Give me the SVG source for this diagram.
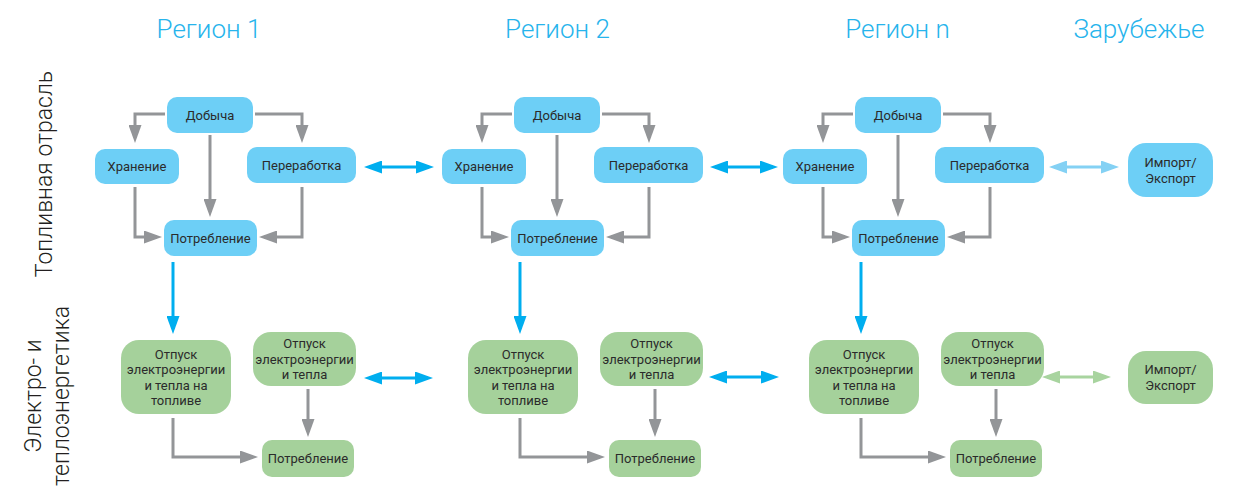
<svg xmlns="http://www.w3.org/2000/svg" width="1236" height="489" viewBox="0 0 1236 489">
<style>
  .hdr{font-family:Roboto,"Liberation Sans",sans-serif;font-weight:300;font-size:26px;fill:#27b4ec;text-anchor:middle}
  .side{font-family:Roboto,"Liberation Sans",sans-serif;font-weight:300;font-size:23px;fill:#231f20;text-anchor:middle}
  .t{font-family:Roboto,"Liberation Sans",sans-serif;font-size:13px;fill:#2b2b2b;text-anchor:middle}
  .b{fill:#6dcff6}
  .g{fill:#a5d19b}
  .cg{fill:none;stroke:#939598;stroke-width:3;marker-end:url(#ah-gray)}
  .cb{fill:none;stroke:#00aeef;stroke-width:3;marker-end:url(#ah-blue)}
  .cbd{fill:none;stroke:#00aeef;stroke-width:3;marker-start:url(#ah-blue);marker-end:url(#ah-blue)}
  .clb{fill:none;stroke:#84d1f4;stroke-width:3;marker-start:url(#ah-lblue);marker-end:url(#ah-lblue)}
  .clg{fill:none;stroke:#a8d49f;stroke-width:3;marker-start:url(#ah-lgreen);marker-end:url(#ah-lgreen)}
</style>
<defs>
  <marker id="ah-gray" viewBox="0 0 18 13" refX="13" refY="6.5" markerWidth="18" markerHeight="13" markerUnits="userSpaceOnUse" orient="auto-start-reverse"><path d="M0,0 L18,6.5 L0,13 z" fill="#939598"/></marker>
  <marker id="ah-blue" viewBox="0 0 18 13" refX="13" refY="6.5" markerWidth="18" markerHeight="13" markerUnits="userSpaceOnUse" orient="auto-start-reverse"><path d="M0,0 L18,6.5 L0,13 z" fill="#00aeef"/></marker>
  <marker id="ah-lblue" viewBox="0 0 18 13" refX="13" refY="6.5" markerWidth="18" markerHeight="13" markerUnits="userSpaceOnUse" orient="auto-start-reverse"><path d="M0,0 L18,6.5 L0,13 z" fill="#84d1f4"/></marker>
  <marker id="ah-lgreen" viewBox="0 0 18 13" refX="13" refY="6.5" markerWidth="18" markerHeight="13" markerUnits="userSpaceOnUse" orient="auto-start-reverse"><path d="M0,0 L18,6.5 L0,13 z" fill="#a8d49f"/></marker>
</defs>
<rect width="1236" height="489" fill="#ffffff"/>

<g id="headers">
  <text class="hdr" x="209" y="38">Регион 1</text>
  <text class="hdr" x="557.5" y="38">Регион 2</text>
  <text class="hdr" x="897.5" y="38">Регион n</text>
  <text class="hdr" x="1139" y="38">Зарубежье</text>
</g>
<g id="side-labels">
  <text class="side" transform="translate(52,174) rotate(-90)">Топливная отрасль</text>
  <text class="side" transform="translate(41,396) rotate(-90)"><tspan x="0" y="0">Электро- и</tspan><tspan x="0" dy="28">теплоэнергетика</tspan></text>
</g>

<g id="connectors">
  <g id="conn-r1">
    <path class="cg" d="M165,114 H135 V138"/>
    <path class="cg" d="M255,114 H302 V138"/>
    <path class="cg" d="M210,135 V212"/>
    <path class="cg" d="M135,187 V237 H157"/>
    <path class="cg" d="M302,187 V237 H264"/>
    <path class="cb" d="M173,262 V329"/>
    <path class="cg" d="M173,418 V457 H253"/>
    <path class="cg" d="M308,389 V432"/>
  </g>
  <g id="conn-r2" transform="translate(347,0)">
    <path class="cg" d="M165,114 H135 V138"/>
    <path class="cg" d="M255,114 H302 V138"/>
    <path class="cg" d="M210,135 V212"/>
    <path class="cg" d="M135,187 V237 H157"/>
    <path class="cg" d="M302,187 V237 H264"/>
    <path class="cb" d="M173,262 V329"/>
    <path class="cg" d="M173,418 V457 H253"/>
    <path class="cg" d="M308,389 V432"/>
  </g>
  <g id="conn-rn" transform="translate(688,0)">
    <path class="cg" d="M165,114 H135 V138"/>
    <path class="cg" d="M255,114 H302 V138"/>
    <path class="cg" d="M210,135 V212"/>
    <path class="cg" d="M135,187 V237 H157"/>
    <path class="cg" d="M302,187 V237 H264"/>
    <path class="cb" d="M173,262 V329"/>
    <path class="cg" d="M173,418 V457 H253"/>
    <path class="cg" d="M308,389 V432"/>
  </g>
  <path class="cbd" d="M369,167 H429"/>
  <path class="cbd" d="M369,378 H428"/>
  <path class="cbd" d="M715,167 H773"/>
  <path class="cbd" d="M714,377 H774"/>
  <path class="clb" d="M1054,167 H1114"/>
  <path class="clg" d="M1047,377 H1106"/>
</g>

<g id="region1">
  <g id="r1-dobycha"><rect class="b" x="167" y="97" width="86" height="36" rx="10"/><text class="t" x="210" y="119.5">Добыча</text></g>
  <g id="r1-hranenie"><rect class="b" x="95" y="149" width="84" height="35" rx="10"/><text class="t" x="137" y="171">Хранение</text></g>
  <g id="r1-pererabotka"><rect class="b" x="247" y="147" width="109" height="36" rx="10"/><text class="t" x="301.5" y="169.5">Переработка</text></g>
  <g id="r1-potreblenie"><rect class="b" x="164" y="220" width="93" height="36" rx="10"/><text class="t" x="210.5" y="242.5">Потребление</text></g>
  <g id="r1-otpusk-topl"><rect class="g" x="121" y="340" width="110" height="74" rx="18"/><text class="t"><tspan x="176" y="358.5">Отпуск</tspan><tspan x="176" y="374">электроэнергии</tspan><tspan x="176" y="389.5">и тепла на</tspan><tspan x="176" y="405">топливе</tspan></text></g>
  <g id="r1-otpusk"><rect class="g" x="253" y="332" width="103" height="54" rx="18"/><text class="t"><tspan x="304.5" y="348">Отпуск</tspan><tspan x="304.5" y="363.5">электроэнергии</tspan><tspan x="304.5" y="379">и тепла</tspan></text></g>
  <g id="r1-potreblenie-el"><rect class="g" x="262" y="440" width="92" height="37" rx="10"/><text class="t" x="308" y="463">Потребление</text></g>
</g>

<g id="region2" transform="translate(347,0)">
  <g id="r2-dobycha"><rect class="b" x="167" y="97" width="86" height="36" rx="10"/><text class="t" x="210" y="119.5">Добыча</text></g>
  <g id="r2-hranenie"><rect class="b" x="95" y="149" width="84" height="35" rx="10"/><text class="t" x="137" y="171">Хранение</text></g>
  <g id="r2-pererabotka"><rect class="b" x="247" y="147" width="109" height="36" rx="10"/><text class="t" x="301.5" y="169.5">Переработка</text></g>
  <g id="r2-potreblenie"><rect class="b" x="164" y="220" width="93" height="36" rx="10"/><text class="t" x="210.5" y="242.5">Потребление</text></g>
  <g id="r2-otpusk-topl"><rect class="g" x="121" y="340" width="110" height="74" rx="18"/><text class="t"><tspan x="176" y="358.5">Отпуск</tspan><tspan x="176" y="374">электроэнергии</tspan><tspan x="176" y="389.5">и тепла на</tspan><tspan x="176" y="405">топливе</tspan></text></g>
  <g id="r2-otpusk"><rect class="g" x="253" y="332" width="103" height="54" rx="18"/><text class="t"><tspan x="304.5" y="348">Отпуск</tspan><tspan x="304.5" y="363.5">электроэнергии</tspan><tspan x="304.5" y="379">и тепла</tspan></text></g>
  <g id="r2-potreblenie-el"><rect class="g" x="262" y="440" width="92" height="37" rx="10"/><text class="t" x="308" y="463">Потребление</text></g>
</g>

<g id="regionn" transform="translate(688,0)">
  <g id="rn-dobycha"><rect class="b" x="167" y="97" width="86" height="36" rx="10"/><text class="t" x="210" y="119.5">Добыча</text></g>
  <g id="rn-hranenie"><rect class="b" x="95" y="149" width="84" height="35" rx="10"/><text class="t" x="137" y="171">Хранение</text></g>
  <g id="rn-pererabotka"><rect class="b" x="247" y="147" width="109" height="36" rx="10"/><text class="t" x="301.5" y="169.5">Переработка</text></g>
  <g id="rn-potreblenie"><rect class="b" x="164" y="220" width="93" height="36" rx="10"/><text class="t" x="210.5" y="242.5">Потребление</text></g>
  <g id="rn-otpusk-topl"><rect class="g" x="121" y="340" width="110" height="74" rx="18"/><text class="t"><tspan x="176" y="358.5">Отпуск</tspan><tspan x="176" y="374">электроэнергии</tspan><tspan x="176" y="389.5">и тепла на</tspan><tspan x="176" y="405">топливе</tspan></text></g>
  <g id="rn-otpusk"><rect class="g" x="253" y="332" width="103" height="54" rx="18"/><text class="t"><tspan x="304.5" y="348">Отпуск</tspan><tspan x="304.5" y="363.5">электроэнергии</tspan><tspan x="304.5" y="379">и тепла</tspan></text></g>
  <g id="rn-potreblenie-el"><rect class="g" x="262" y="440" width="92" height="37" rx="10"/><text class="t" x="308" y="463">Потребление</text></g>
</g>

<g id="abroad">
  <g id="import-fuel"><rect class="b" x="1128" y="143" width="85" height="54" rx="18"/><text class="t"><tspan x="1170.5" y="167">Импорт/</tspan><tspan x="1170.5" y="183">Экспорт</tspan></text></g>
  <g id="import-power"><rect class="g" x="1128" y="351" width="85" height="53" rx="18"/><text class="t"><tspan x="1170.5" y="374">Импорт/</tspan><tspan x="1170.5" y="390">Экспорт</tspan></text></g>
</g>
</svg>
